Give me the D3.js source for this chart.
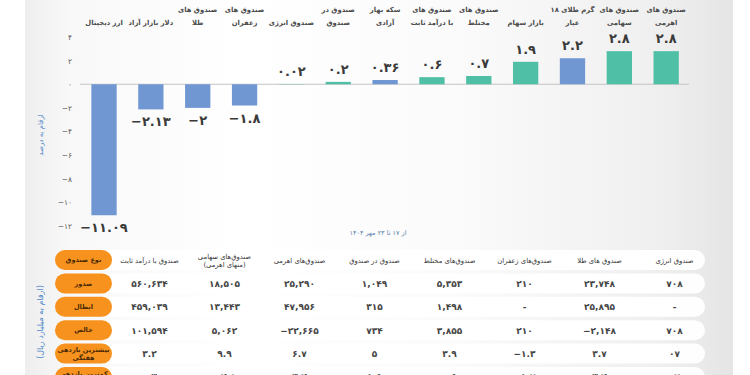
<!DOCTYPE html>
<html>
<head>
<meta charset="utf-8">
<script src="https://cdn.jsdelivr.net/npm/d3@7"></script>
<style>
  body { margin: 0; background: #fff; }
  svg { display: block; font-family: "DejaVu Sans", sans-serif; }
</style>
</head>
<body>
<div id="chart"></div>
<script>
// bar chart data (left to right)
var categories = ["ارز دیجیتال", "دلار بازار آزاد", "صندوق های طلا", "صندوق های زعفران", "صندوق انرژی",
    "صندوق در صندوق", "سکه بهار آزادی", "صندوق های با درآمد ثابت", "صندوق های مختلط", "بازار سهام",
    "گرم طلای ۱۸ عیار", "صندوق های سهامی", "صندوق های اهرمی"];
var catLines = [["ارز دیجیتال"], ["دلار بازار آزاد"], ["صندوق های", "طلا"], ["صندوق های", "زعفران"], ["صندوق انرژی"],
    ["صندوق در", "صندوق"], ["سکه بهار", "آزادی"], ["صندوق های", "با درآمد ثابت"], ["صندوق های", "مختلط"], ["بازار سهام"],
    ["گرم طلای ۱۸", "عیار"], ["صندوق های", "سهامی"], ["صندوق های", "اهرمی"]];
var values = [-11.09, -2.13, -2, -1.8, 0.02, 0.2, 0.36, 0.6, 0.7, 1.9, 2.2, 2.8, 2.8];
var kinds = ["asset", "asset", "asset", "asset", "fund", "fund", "asset", "fund", "fund", "fund", "asset", "fund", "fund"];
var yTicks = [-12, -10, -8, -6, -4, -2, 0, 2, 4];

// table data
var tableCols = [["صندوق با درآمد ثابت"], ["صندوق‌های سهامی", "(منهای اهرمی)"], ["صندوق‌های اهرمی"], ["صندوق در صندوق"],
    ["صندوق‌های مختلط"], ["صندوق‌های زعفران"], ["صندوق های طلا"], ["صندوق انرژی"]];
var rowLabels = [["نوع صندوق"], ["صدور"], ["ابطال"], ["خالص"], ["بیشترین بازدهی", "هفتگی"], ["کمترین بازدهی", "هفتگی"]];
var issued   = ["560,634", "18,505", "25,290", "1,049", "5,353", "210", "23,748", "708"];
var redeemed = ["459,039", "13,443", "47,956", "315", "1,498", "-", "25,895", "-"];
var net      = ["101,594", "5,062", "-22,665", "734", "3,855", "210", "-2,148", "708"];
var maxRet   = ["3.2", "9.9", "6.7", "5", "3.9", "-1.3", "3.7", "07"];
var minRet   = ["0.3", "-2.8", "3.2", "1.5", "0.5", "-1.7", "3.2", "07"];
var tableRows = [issued, redeemed, net, maxRet, minRet];

var colors = { asset: "#7197d3", fund: "#4fbfa5" };

function fa(s) {
    return String(s).replace(/[0-9]/g, function (d) { return "۰۱۲۳۴۵۶۷۸۹"[+d]; });
}

var svg = d3.select("#chart").append("svg")
    .attr("width", 750).attr("height", 375);

var defs = svg.append("defs");
var grad = defs.append("linearGradient").attr("id", "bg").attr("x1", 0).attr("x2", 1).attr("y1", 0).attr("y2", 0);
[[0, "#eeeeee"], [0.06, "#f8f8f8"], [0.3, "#ffffff"], [0.6, "#fbfbfb"], [0.9, "#efefef"], [1, "#e5e5e5"]]
    .forEach(function (s) { grad.append("stop").attr("offset", s[0]).attr("stop-color", s[1]); });

svg.append("rect").attr("x", 25).attr("y", 0).attr("width", 708).attr("height", 375).attr("fill", "url(#bg)");

// ---- bar chart ----
var y = d3.scaleLinear().domain([-12, 4]).range([226, 37]);
var x = d3.scaleBand().domain(categories).range([80.6, 689.6]).paddingInner(0.46).paddingOuter(0.23);

svg.append("line")
    .attr("x1", 80).attr("x2", 689).attr("y1", y(0)).attr("y2", y(0))
    .attr("stroke", "#c4c4c4").attr("stroke-width", 1);

svg.append("g").selectAll("rect")
    .data(values)
    .enter().append("rect")
    .attr("x", function (d, i) { return x(categories[i]); })
    .attr("y", function (d) { return y(Math.max(0, d)); })
    .attr("width", x.bandwidth())
    .attr("height", function (d) { return Math.abs(y(d) - y(0)); })
    .attr("fill", function (d, i) { return colors[kinds[i]]; });

svg.append("g").selectAll("text")
    .data(values)
    .enter().append("text")
    .attr("x", function (d, i) { return x(categories[i]) + x.bandwidth() / 2; })
    .attr("y", function (d) { return d >= 0 ? y(d) - 8 : y(d) + 17; })
    .attr("text-anchor", "middle")
    .attr("font-size", 13).attr("font-weight", "bold").attr("fill", "#3a3a3a")
    .text(function (d) { return (d < 0 ? "−" : "") + fa(Math.abs(d)); });

svg.append("g").selectAll("text")
    .data(catLines)
    .enter().append("text")
    .attr("text-anchor", "middle")
    .attr("direction", "rtl")
    .attr("font-size", 6.8).attr("font-weight", "bold").attr("fill", "#4a4a4a")
    .each(function (d, i) {
        var t = d3.select(this);
        d.forEach(function (line, j) {
            t.append("tspan")
                .attr("x", x(categories[i]) + x.bandwidth() / 2)
                .attr("y", 12 + (d.length === 1 ? 1 : j) * 13)
                .text(line);
        });
    });

var yAxis = svg.append("g")
    .attr("transform", "translate(74,0)")
    .call(d3.axisLeft(y).tickValues(yTicks).tickSize(0).tickPadding(2)
        .tickFormat(function (d) { return (d < 0 ? "−" : "") + fa(Math.abs(d)); }));
yAxis.select(".domain").remove();
yAxis.selectAll("text").attr("font-size", 7.5).attr("fill", "#555").attr("font-family", "DejaVu Sans");

svg.append("text")
    .attr("transform", "translate(43,135) rotate(-90)")
    .attr("text-anchor", "middle").attr("direction", "rtl")
    .attr("font-size", 7).attr("fill", "#4d88c9")
    .text("ارقام به درصد");

svg.append("text")
    .attr("x", 378).attr("y", 235)
    .attr("text-anchor", "middle").attr("direction", "rtl")
    .attr("font-size", 6.5).attr("fill", "#5a80aa")
    .text("از ۱۷ تا ۲۳ مهر ۱۴۰۴");

// ---- table ----
var rowY = d3.scaleBand().domain(d3.range(rowLabels.length)).range([250, 387]).paddingInner(0.145);
var colX = d3.scaleBand().domain(d3.range(tableCols.length)).range([112, 712]);

svg.append("text")
    .attr("transform", "translate(43,322) rotate(-90)")
    .attr("text-anchor", "middle").attr("direction", "rtl")
    .attr("font-size", 8).attr("fill", "#4d88c9")
    .text("(ارقام به میلیارد ریال)");

var rows = svg.append("g").selectAll("g")
    .data(rowLabels)
    .enter().append("g")
    .attr("transform", function (d, i) { return "translate(0," + rowY(i) + ")"; });

rows.append("rect")
    .attr("x", 95).attr("width", 610).attr("height", rowY.bandwidth())
    .attr("rx", rowY.bandwidth() / 2)
    .attr("fill", "#ffffff").attr("opacity", 0.95);

rows.append("rect")
    .attr("x", 55).attr("width", 57).attr("height", rowY.bandwidth())
    .attr("rx", rowY.bandwidth() / 2)
    .attr("fill", "#f7921e");

rows.append("text")
    .attr("text-anchor", "middle").attr("direction", "rtl")
    .attr("font-size", 6.5).attr("font-weight", "bold").attr("fill", "#4a2a05")
    .selectAll("tspan")
    .data(function (d) { return d.map(function (t, j) { return { t: t, j: j, n: d.length }; }); })
    .enter().append("tspan")
    .attr("x", 83.5)
    .attr("y", function (d) { return rowY.bandwidth() / 2 + 2.3 + (d.j - (d.n - 1) / 2) * 7.5; })
    .text(function (d) { return d.t; });

// header cells
svg.append("g").selectAll("text")
    .data(tableCols)
    .enter().append("text")
    .attr("text-anchor", "middle").attr("direction", "rtl")
    .attr("font-size", 6.8).attr("fill", "#333")
    .each(function (d, i) {
        var t = d3.select(this);
        d.forEach(function (line, j) {
            t.append("tspan")
                .attr("x", colX(i) + colX.bandwidth() / 2)
                .attr("y", rowY(0) + rowY.bandwidth() / 2 + 2.5 + (j - (d.length - 1) / 2) * 8)
                .text(line);
        });
    });

// value cells
svg.append("g").selectAll("g")
    .data(tableRows)
    .enter().append("g")
    .each(function (row, r) {
        d3.select(this).selectAll("text")
            .data(row)
            .enter().append("text")
            .attr("x", function (d, i) { return colX(i) + colX.bandwidth() / 2; })
            .attr("y", rowY(r + 1) + rowY.bandwidth() / 2 + 3.5)
            .attr("text-anchor", "middle")
            .attr("font-size", 9).attr("font-weight", "bold").attr("fill", "#454545")
            .text(function (d) { return d === "-" ? "-" : fa(d.replace("-", "−")); });
    });
</script>
</body>
</html>
